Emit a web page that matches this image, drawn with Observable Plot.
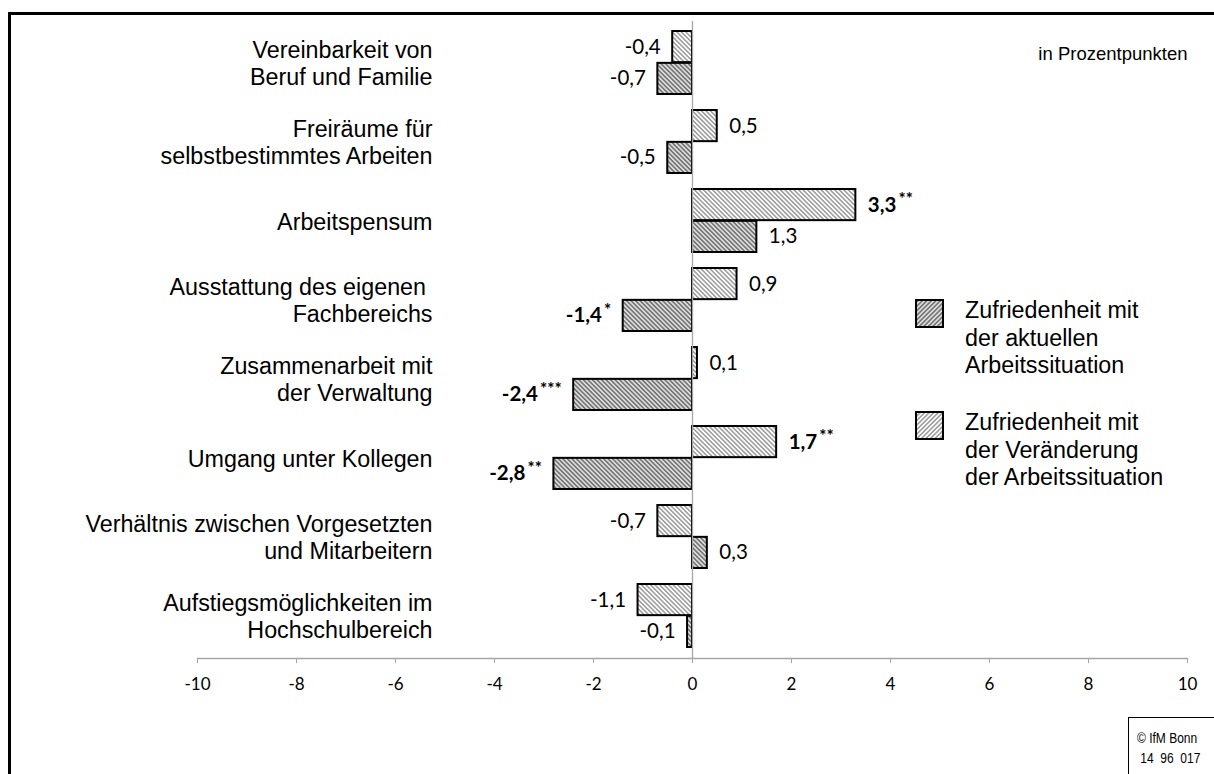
<!DOCTYPE html>
<html><head><meta charset="utf-8">
<script src="https://cdn.jsdelivr.net/npm/d3@7"></script>
<script src="https://cdn.jsdelivr.net/npm/@observablehq/plot@0.6"></script>
<style>
html,body{margin:0;padding:0;background:#fff;}
#wrap{position:relative;width:1214px;height:774px;overflow:hidden;font-family:"Liberation Sans",Arial,sans-serif;color:#000;}
#outer{position:absolute;left:8px;top:12px;width:1300px;height:900px;border-left:3px solid #000;border-top:3px solid #000;box-sizing:border-box;}
#chart{position:absolute;left:0;top:0;}
.leg{position:absolute;left:915px;font-size:23.3px;line-height:27.5px;}
.leg svg{position:absolute;left:0;}
.leg div{position:absolute;left:50px;top:0;white-space:nowrap;}
#copy{position:absolute;left:1128px;top:717px;width:200px;height:100px;border-left:1px solid #000;border-top:1px solid #000;}
#copy div{position:absolute;left:8px;top:10px;font-size:15px;line-height:20px;white-space:pre;transform:scaleX(0.8);transform-origin:0 0;}
</style></head>
<body>
<svg width="0" height="0" style="position:absolute">
<defs>
<pattern id="hatchDark" patternUnits="userSpaceOnUse" width="3.2" height="3.2" patternTransform="rotate(-45)">
<rect width="3.2" height="3.2" fill="#767676"/>
<line x1="1.6" y1="0" x2="1.6" y2="3.2" stroke="#fff" stroke-width="1.2"/>
</pattern>
<pattern id="hatchLight" patternUnits="userSpaceOnUse" width="3.2" height="3.2" patternTransform="rotate(-45)">
<rect width="3.2" height="3.2" fill="#fff"/>
<line x1="1.6" y1="0" x2="1.6" y2="3.2" stroke="#555" stroke-width="0.9"/>
</pattern>
<pattern id="legDark" patternUnits="userSpaceOnUse" width="3.2" height="3.2" patternTransform="rotate(45)">
<rect width="3.2" height="3.2" fill="#767676"/>
<line x1="1.6" y1="0" x2="1.6" y2="3.2" stroke="#fff" stroke-width="1.2"/>
</pattern>
<pattern id="legLight" patternUnits="userSpaceOnUse" width="3.2" height="3.2" patternTransform="rotate(45)">
<rect width="3.2" height="3.2" fill="#fff"/>
<line x1="1.6" y1="0" x2="1.6" y2="3.2" stroke="#555" stroke-width="0.9"/>
</pattern>
</defs>
</svg>
<div id="wrap">
<div id="outer"></div>
<div id="chart"></div>
<div class="leg" style="top:297px">
<svg width="30" height="30" style="top:2px"><rect x="1" y="1" width="27" height="27" fill="url(#legDark)" stroke="#000" stroke-width="2"/></svg>
<div>Zufriedenheit mit<br>der aktuellen<br>Arbeitssituation</div>
</div>
<div class="leg" style="top:409px">
<svg width="30" height="30" style="top:2px"><rect x="1" y="1" width="27" height="27" fill="url(#legLight)" stroke="#000" stroke-width="2"/></svg>
<div>Zufriedenheit mit<br>der Veränderung<br>der Arbeitssituation</div>
</div>
<div id="copy"><div>© IfM Bonn
 14  96  017</div></div>
</div>
<script>
const categories = [
  "Vereinbarkeit von\nBeruf und Familie",
  "Freiräume für\nselbstbestimmtes Arbeiten",
  "Arbeitspensum",
  "Ausstattung des eigenen\u00a0\nFachbereichs",
  "Zusammenarbeit mit\nder Verwaltung",
  "Umgang unter Kollegen",
  "Verhältnis zwischen Vorgesetzten\nund Mitarbeitern",
  "Aufstiegsmöglichkeiten im\nHochschulbereich"
];
const aktuell      = [-0.7, -0.5, 1.3, -1.4, -2.4, -2.8, 0.3, -0.1];
const veraenderung = [-0.4,  0.5, 3.3,  0.9,  0.1,  1.7, -0.7, -1.1];
const aktuellSig      = ["", "", "", "*", "***", "**", "", ""];
const veraenderungSig = ["", "", "**", "", "", "**", "", ""];
const xTicks = [-10, -8, -6, -4, -2, 0, 2, 4, 6, 8, 10];
const unitNote = "in Prozentpunkten";

const rows = categories.flatMap((c, i) => [
  {category: c, series: "veraenderung", value: veraenderung[i], sig: veraenderungSig[i]},
  {category: c, series: "aktuell", value: aktuell[i], sig: aktuellSig[i]}
]);

const fmt = v => d3.format(".1f")(v).replace(".", ",").replace("−", "-");
const half = 31.85;

function labelMark(series, positive, bold) {
  return Plot.text(rows.filter(d => d.series === series && (d.value >= 0) === positive && (d.sig !== "") === bold), {
    x: "value", y: "category",
    text: d => fmt(d.value) + d.sig,
    dy: series === "veraenderung" ? -half / 2 : half / 2,
    dx: positive ? 12 : -12,
    textAnchor: positive ? "start" : "end",
    fontFamily: "Lato", fontSize: 20.5, fontWeight: bold ? "bold" : "normal", fill: "#000"
  });
}

const labels = [];
for (const s of ["veraenderung", "aktuell"]) for (const p of [true, false]) for (const b of [true, false]) labels.push(labelMark(s, p, b));

const chart = Plot.plot({
  width: 1214, height: 700,
  marginTop: 21, marginBottom: 42, marginLeft: 197, marginRight: 27,
  x: {domain: [-10, 10]},
  y: {domain: categories, paddingInner: 0.2, paddingOuter: 0.1, axis: null},
  style: {background: "transparent", color: "#000"},
  marks: [
    Plot.barX(rows.filter(d => d.series === "veraenderung"), {x: "value", y: "category", fill: "url(#hatchLight)", stroke: "#000", strokeWidth: 2, insetBottom: half}),
    Plot.barX(rows.filter(d => d.series === "aktuell"), {x: "value", y: "category", fill: "url(#hatchDark)", stroke: "#000", strokeWidth: 2, insetTop: half}),
    Plot.ruleX([0], {stroke: "#a6a6a6", strokeWidth: 1.3}),
    Plot.frame({anchor: "bottom", stroke: "#a6a6a6", strokeWidth: 1.3}),
    Plot.axisX({ticks: xTicks, tickFormat: d => String(d), tickSize: 5, tickPadding: 14, stroke: "#a6a6a6", fontSize: 17, fontFamily: "Lato", label: null}),
    Plot.text(categories, {y: d => d, text: d => d, frameAnchor: "left", textAnchor: "end", dx: 235, fontSize: 23.3, lineHeight: 1.14, fontFamily: "Liberation Sans", fill: "#000"}),
    ...labels,
    Plot.text([unitNote], {text: d => d, frameAnchor: "top-right", textAnchor: "end", lineAnchor: "top", dy: 25, dx: 0, fontSize: 18.5, fontFamily: "Liberation Sans", fill: "#000"})
  ]
});

chart.querySelectorAll("text").forEach(t => {
  if (t.children.length) return;
  const m = /^(.*?)(\*+)$/.exec(t.textContent);
  if (!m) return;
  t.textContent = m[1];
  const ts = document.createElementNS("http://www.w3.org/2000/svg", "tspan");
  ts.setAttribute("dy", "-0.4em");
  ts.setAttribute("dx", "2");
  ts.setAttribute("font-size", "17");
  ts.textContent = m[2];
  t.appendChild(ts);
});

document.getElementById("chart").appendChild(chart);
</script>
</body></html>
